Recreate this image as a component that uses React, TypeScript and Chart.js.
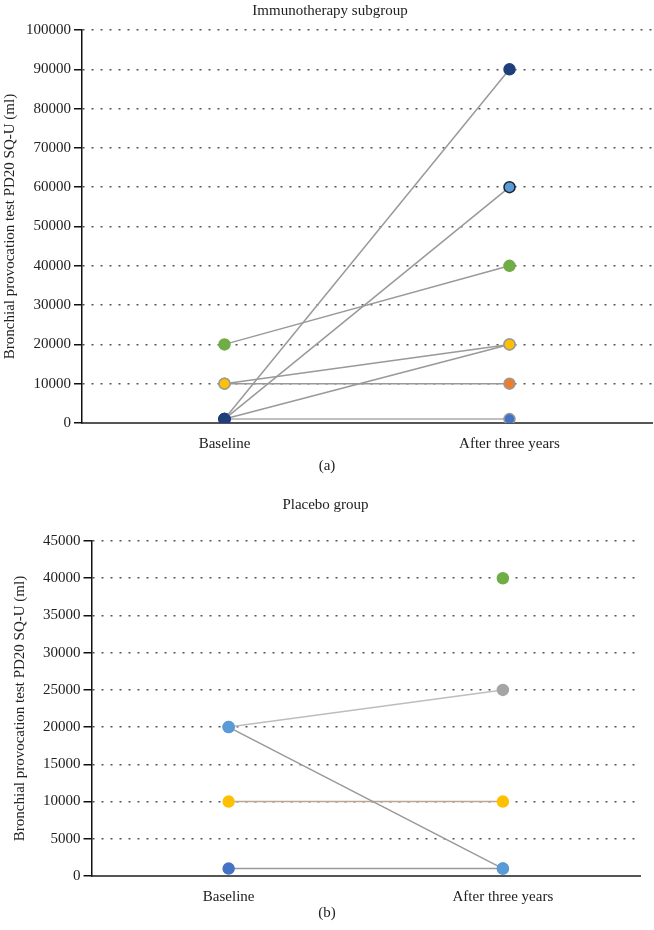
import React, { useEffect, useRef } from "react";
import { Chart, registerables } from "chart.js";

Chart.register(...registerables);

const categories = ["Baseline", "After three years"];
const yAxisTitle = "Bronchial provocation test PD20 SQ-U (ml)";

// (a) Immunotherapy subgroup
const immunoBaseline = [1000, 1000, 1000, 10000, 20000, 10000, 1000];
const immunoAfter = [90000, 60000, 20000, 20000, 40000, 10000, 1000];
const immunoTicksMax = 100000;
const immunoTicksStep = 10000;

// (b) Placebo group
const placeboBaseline = [20000, 20000, 10000, 1000, null];
const placeboAfter = [25000, 1000, 10000, 1000, 40000];
const placeboTicksMax = 45000;
const placeboTicksStep = 5000;

const NAVY = "#1F3F7A";
const LBLUE = "#5B9BD5";
const GREEN = "#70AD47";
const YELLOW = "#FFC000";
const ORANGE = "#ED7D31";
const BLUE = "#4472C4";
const GRAY = "#A5A5A5";

const immunoBaseColors = [NAVY, NAVY, NAVY, YELLOW, GREEN, YELLOW, NAVY];
const immunoBaseBorders = [NAVY, NAVY, NAVY, "#9a9a9a", GREEN, "#9a9a9a", NAVY];
const immunoAfterColors = [NAVY, LBLUE, YELLOW, YELLOW, GREEN, ORANGE, BLUE];
const immunoAfterBorders = [NAVY, "#1b2533", "#9a9a9a", "#9a9a9a", GREEN, "#9a9a9a", "#9a9a9a"];
const immunoLineColors = ["#999", "#999", "#999", "#999", "#999", "#999", "#aaa"];

const placeboBaseColors = [LBLUE, LBLUE, YELLOW, BLUE, LBLUE];
const placeboAfterColors = [GRAY, LBLUE, YELLOW, LBLUE, GREEN];
const placeboLineColors = ["#BDBDBD", "#999999", "#BCA592", "#999999", "rgba(0,0,0,0)"];

const FONT = "'Liberation Serif', 'Times New Roman', serif";
const TEXT = "#222";

function makeConfig(opts: any) {
  const datasets = opts.base.map((b: any, i: number) => ({
    data: [b, opts.after[i]],
    borderColor: opts.lineColors[i],
    borderWidth: 1.5,
    pointRadius: 5.5,
    pointHoverRadius: 5.5,
    pointBorderWidth: 1.5,
    pointBackgroundColor: [opts.baseColors[i], opts.afterColors[i]],
    pointBorderColor: [
      opts.baseBorders ? opts.baseBorders[i] : opts.baseColors[i],
      opts.afterBorders ? opts.afterBorders[i] : opts.afterColors[i],
    ],
    tension: 0,
    fill: false,
  }));
  return {
    type: "line",
    data: { labels: categories, datasets },
    options: {
      animation: false,
      responsive: false,
      maintainAspectRatio: false,
      layout: { padding: opts.padding },
      plugins: {
        legend: { display: false },
        tooltip: { enabled: false },
        title: {
          display: true,
          text: opts.title,
          color: TEXT,
          font: { family: FONT, size: 15, weight: "normal" },
          padding: opts.titlePadding,
        },
      },
      scales: {
        x: {
          type: "category",
          offset: true,
          grid: { display: false, drawTicks: false },
          border: { display: true, color: "#555", width: 2 },
          ticks: { color: TEXT, font: { family: FONT, size: 15 }, padding: 12 },
        },
        y: {
          min: 0,
          max: opts.max,
          grid: {
            color: "#555",
            lineWidth: 1.5,
            tickColor: "#111",
            tickLength: 8,
            tickWidth: 1.5,
            tickBorderDash: [],
          },
          border: { display: true, color: "#111", width: 1.5, dash: [2, 7] },
          ticks: {
            stepSize: opts.step,
            color: TEXT,
            padding: 3,
            font: { family: FONT, size: 15 },
            callback: (v: any) => String(v),
          },
          title: {
            display: true,
            text: yAxisTitle,
            color: TEXT,
            font: { family: FONT, size: 15 },
            padding: opts.yTitlePadding,
          },
        },
      },
    },
  };
}

function ChartCanvas(props: any) {
  const ref = useRef<HTMLCanvasElement>(null);
  useEffect(() => {
    const chart = new Chart(ref.current as HTMLCanvasElement, props.config);
    return () => chart.destroy();
  }, []);
  return (
    <canvas
      ref={ref}
      width={props.width}
      height={props.height}
      style={{ position: "absolute", left: 0, top: props.top, width: props.width, height: props.height }}
    />
  );
}

export default function App() {
  const configA = makeConfig({
    base: immunoBaseline,
    after: immunoAfter,
    baseColors: immunoBaseColors,
    baseBorders: immunoBaseBorders,
    afterColors: immunoAfterColors,
    afterBorders: immunoAfterBorders,
    lineColors: immunoLineColors,
    title: "Immunotherapy subgroup",
    titlePadding: { top: 2, bottom: 10 },
    padding: { left: 1, right: 0, top: 0, bottom: 2 },
    yTitlePadding: { top: 0, bottom: 4 },
    max: immunoTicksMax,
    step: immunoTicksStep,
  });
  const configB = makeConfig({
    base: placeboBaseline,
    after: placeboAfter,
    baseColors: placeboBaseColors,
    afterColors: placeboAfterColors,
    lineColors: placeboLineColors,
    title: "Placebo group",
    titlePadding: { top: 6, bottom: 27 },
    padding: { left: 11, right: 14, top: 0, bottom: 2 },
    yTitlePadding: { top: 0, bottom: 11 },
    max: placeboTicksMax,
    step: placeboTicksStep,
  });
  const caption: any = {
    position: "absolute",
    left: 0,
    width: 654,
    textAlign: "center",
    fontFamily: FONT,
    fontSize: 15,
    color: TEXT,
    lineHeight: "18px",
  };
  return (
    <div
      style={{
        position: "absolute",
        left: 0,
        top: 0,
        width: 654,
        height: 930,
        background: "#fff",
        overflow: "hidden",
      }}
    >
      <ChartCanvas config={configA} top={0} width={659} height={467} />
      <div style={{ ...caption, top: 456 }}>(a)</div>
      <ChartCanvas config={configB} top={490} width={654} height={430} />
      <div style={{ ...caption, top: 903 }}>(b)</div>
    </div>
  );
}
